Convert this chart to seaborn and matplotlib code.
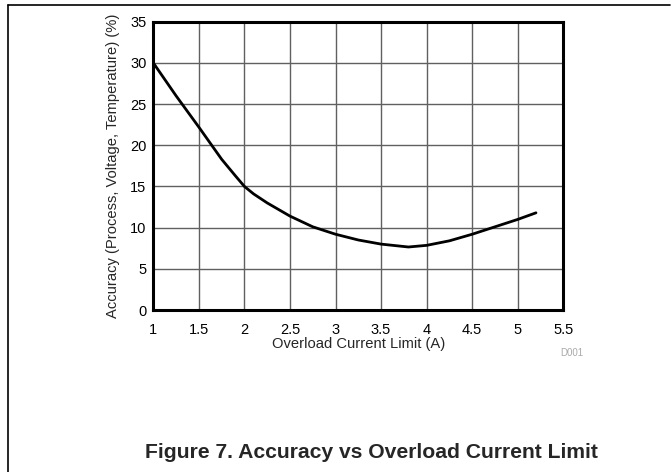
import matplotlib
matplotlib.use('Agg')
import matplotlib.pyplot as plt
import seaborn as sns
import pandas as pd
from matplotlib.lines import Line2D

# values
current = [1, 1.25, 1.5, 1.75, 1.9, 2, 2.1, 2.25, 2.5, 2.75, 3, 3.25, 3.5, 3.8, 4, 4.25, 4.5, 4.75, 5, 5.2]
accuracy = [30, 26, 22.2, 18.3, 16.3, 15.0, 14.1, 13.0, 11.4, 10.1, 9.2, 8.5, 8.0, 7.65, 7.85, 8.4, 9.2, 10.1, 11.0, 11.8]
x_ticks = [1, 1.5, 2, 2.5, 3, 3.5, 4, 4.5, 5, 5.5]
x_tick_labels = ['1', '1.5', '2', '2.5', '3', '3.5', '4', '4.5', '5', '5.5']
y_ticks = [0, 5, 10, 15, 20, 25, 30, 35]

df = pd.DataFrame({'current': current, 'accuracy': accuracy})

sns.set_style("white")
plt.rcParams['font.family'] = ['Liberation Sans', 'DejaVu Sans']

fig = plt.figure(figsize=(6.71, 4.72), dpi=100)
ax = fig.add_axes([0.2285, 0.3432, 0.611, 0.6108])

sns.lineplot(data=df, x='current', y='accuracy', ax=ax, color='black', linewidth=2.0)

ax.set_xlim(1, 5.5)
ax.set_ylim(0, 35)
ax.set_xticks(x_ticks)
ax.set_xticklabels(x_tick_labels)
ax.set_yticks(y_ticks)
ax.grid(True, color='#606060', linewidth=1.0)
ax.set_axisbelow(True)
for s in ax.spines.values():
    s.set_visible(True)
    s.set_color('black')
    s.set_linewidth(2.2)
ax.tick_params(length=0, labelsize=10.5, colors='black')
ax.tick_params(axis='x', pad=9)
ax.tick_params(axis='y', pad=5)
ax.set_xlabel('Overload Current Limit (A)', fontsize=10.6, labelpad=0)
ax.set_ylabel('Accuracy (Process, Voltage, Temperature) (%)', fontsize=10.6, labelpad=7)

fig.text(572 / 671, 1 - 353 / 472, 'D001', fontsize=7, color='#aaaaaa', ha='center', va='center')
# figure caption
fig.text(371 / 671, 1 - 458.5 / 472, 'Figure 7. Accuracy vs Overload Current Limit',
         fontsize=15.2, fontweight='bold', ha='center', va='baseline')

# page frame lines
fig.add_artist(Line2D([8 / 671, 670 / 671], [1 - 5 / 472, 1 - 5 / 472], color='black', linewidth=1.2,
                      transform=fig.transFigure))
fig.add_artist(Line2D([8 / 671, 8 / 671], [1 - 5 / 472, 0], color='black', linewidth=1.2,
                      transform=fig.transFigure))

fig.savefig('out.png', dpi=100)
